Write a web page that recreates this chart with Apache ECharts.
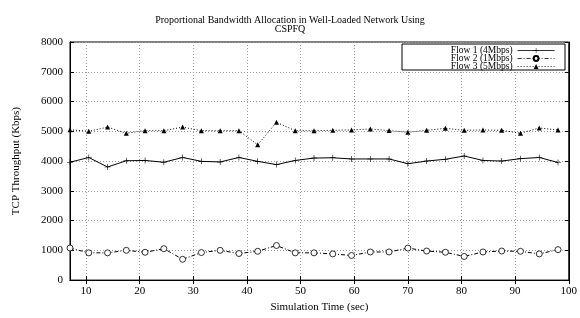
<!DOCTYPE html>
<html>
<head>
<meta charset="utf-8">
<script src="https://cdn.jsdelivr.net/npm/echarts@6/dist/echarts.min.js"></script>
<style>
  html, body { margin: 0; padding: 0; background: #fff; }
  #container { width: 580px; height: 318px; }
</style>
</head>
<body>
<div id="container"></div>
<script>
// simulation time (sec)
var times = [7, 10.5, 14, 17.5, 21, 24.5, 28, 31.5, 35, 38.5, 42, 45.5, 49, 52.5,
  56, 59.5, 63, 66.5, 70, 73.5, 77, 80.5, 84, 87.5, 91, 94.5, 98];
var flow1 = [3960, 4120, 3800, 4010, 4020, 3960, 4120, 3990, 3970, 4120, 3990, 3880, 4020, 4100,
  4110, 4070, 4070, 4070, 3910, 4000, 4060, 4170, 4020, 4000, 4080, 4120, 3950];
var flow2 = [1078, 916, 916, 1000, 935, 1055, 700, 925, 1000, 893, 968, 1163, 916, 916,
  880, 828, 945, 945, 1075, 977, 935, 795, 945, 977, 967, 880, 1023];
var flow3 = [5052, 5000, 5140, 4935, 5020, 5020, 5140, 5020, 5020, 5020, 4545, 5300, 5020, 5020,
  5033, 5045, 5078, 5023, 4968, 5033, 5098, 5033, 5045, 5033, 4935, 5110, 5045];
var xTicks = [10, 20, 30, 40, 50, 60, 70, 80, 90, 100];
var names = ['Flow 1 (4Mbps)', 'Flow 2 (1Mbps)', 'Flow 3 (5Mbps)'];

function pairs(ys) {
  return ys.map(function (y, i) { return [times[i], y]; });
}

var font = 'Liberation Serif';
var dom = document.getElementById('container');
var myChart = echarts.init(dom, null, { renderer: 'canvas' });

var gridLine = { show: true, lineStyle: { color: '#999', type: [1, 2], width: 1 } };
var plus = 'path://M0,4.5H10V5.5H0Z M4.5,0H5.5V10H4.5Z';

// one legend per row so the rows can sit as tight as in the original
var legendTops = [45.5, 53.5, 61.5];
var legends = names.map(function (n, i) {
  return {
    orient: 'vertical',
    right: 25,
    top: legendTops[i],
    align: 'right',
    itemWidth: 37,
    itemHeight: 6,
    itemGap: 0,
    padding: 0,
    z: 5,
    lineStyle: { width: 0.8 },
    textStyle: { fontFamily: font, fontSize: 9.5, color: '#000', lineHeight: 8, height: 8 },
    data: [n]
  };
});

var option = {
  animation: false,
  backgroundColor: '#fff',
  textStyle: { fontFamily: font, color: '#000' },
  title: {
    text: 'Proportional Bandwidth Allocation in Well-Loaded Network Using\nCSPFQ',
    left: 'center',
    top: 11,
    textStyle: { fontFamily: font, fontSize: 10, fontWeight: 'normal', color: '#000', lineHeight: 9 }
  },
  legend: legends,
  graphic: [{
    type: 'rect', z: 4,
    shape: { x: 402, y: 44, width: 163, height: 26 },
    style: { fill: '#fff', stroke: '#000', lineWidth: 1 }
  }],
  grid: {
    left: 70, right: 7, top: 42, bottom: 30,
    show: true, borderColor: '#000', borderWidth: 1
  },
  xAxis: [{
    type: 'value', min: 7, max: 100,
    name: 'Simulation Time (sec)', nameLocation: 'middle', nameGap: 20,
    nameTextStyle: { fontFamily: font, fontSize: 11, color: '#000' },
    axisLine: { lineStyle: { color: '#000' } },
    axisTick: { inside: true, length: 4, customValues: xTicks, lineStyle: { color: '#000' } },
    axisLabel: { customValues: xTicks, fontFamily: font, fontSize: 11, color: '#000', margin: 6 },
    splitLine: gridLine
  }, {
    type: 'value', min: 7, max: 100, position: 'top',
    axisLine: { lineStyle: { color: '#000' } },
    axisTick: { inside: true, length: 4, customValues: xTicks, lineStyle: { color: '#000' } },
    axisLabel: { show: false, customValues: xTicks },
    splitLine: { show: false }
  }],
  yAxis: [{
    type: 'value', min: 0, max: 8000, interval: 1000,
    name: 'TCP Throughput (Kbps)', nameLocation: 'middle', nameGap: 48,
    nameTextStyle: { fontFamily: font, fontSize: 11, color: '#000' },
    axisLine: { show: true, lineStyle: { color: '#000' } },
    axisTick: { show: true, inside: true, length: 4, lineStyle: { color: '#000' } },
    axisLabel: { fontFamily: font, fontSize: 11, color: '#000', margin: 7,
      formatter: function (v) { return String(v); } },
    splitLine: gridLine
  }, {
    type: 'value', min: 0, max: 8000, interval: 1000, position: 'right',
    axisLine: { show: true, lineStyle: { color: '#000' } },
    axisTick: { show: true, inside: true, length: 4, lineStyle: { color: '#000' } },
    axisLabel: { show: false },
    splitLine: { show: false }
  }],
  series: [{
    name: names[0], type: 'line', data: pairs(flow1),
    symbol: plus, symbolSize: 6,
    lineStyle: { color: '#000', width: 1, type: 'solid' },
    itemStyle: { color: '#000' }
  }, {
    name: names[1], type: 'line', data: pairs(flow2),
    symbol: 'circle', symbolSize: 6,
    lineStyle: { color: '#000', width: 1, type: [4, 2, 1, 2] },
    itemStyle: { color: '#fff', borderColor: '#000', borderWidth: 0.8 }
  }, {
    name: names[2], type: 'line', data: pairs(flow3),
    symbol: 'triangle', symbolSize: 5,
    lineStyle: { color: '#000', width: 1, type: [1, 2] },
    itemStyle: { color: '#000' }
  }]
};

myChart.setOption(option);
window.addEventListener('resize', myChart.resize);
</script>
</body>
</html>
